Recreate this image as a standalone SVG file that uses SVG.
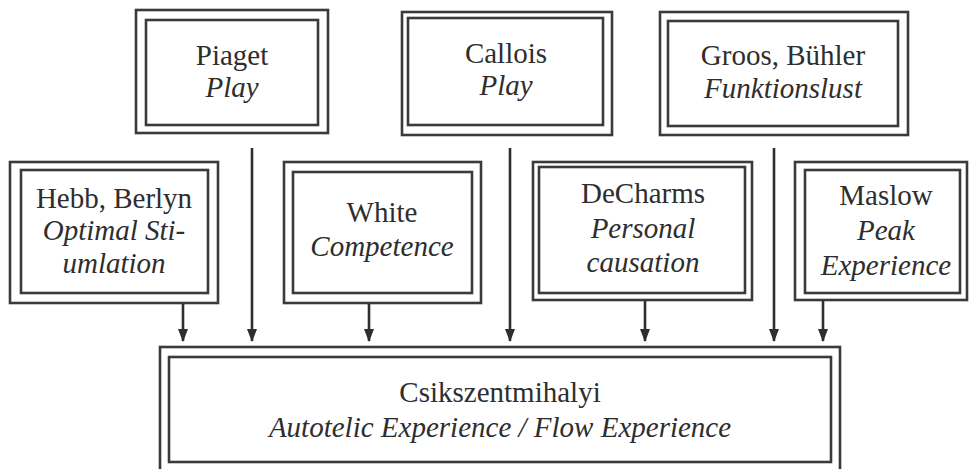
<svg xmlns="http://www.w3.org/2000/svg" width="970" height="469" viewBox="0 0 970 469">
  <style>
    .frame { fill: none; stroke: #3a3a3a; stroke-width: 2.6; }
    .label { font-family: 'Liberation Serif', 'Times New Roman', serif; font-size: 29px; fill: #2e2e2e; text-anchor: middle; }
    .it { font-style: italic; }
    .link { stroke: #2e2e2e; stroke-width: 2.6; fill: none; marker-end: url(#head); }
  </style>
  <defs>
    <marker id="head" viewBox="0 0 13 10" refX="12" refY="5" markerWidth="13" markerHeight="10" markerUnits="userSpaceOnUse" orient="auto">
      <path d="M0,0 L13,5 L0,10 Z" fill="#2e2e2e"/>
    </marker>
  </defs>
  <rect width="970" height="469" fill="#ffffff"/>

  <!-- top row -->
  <g id="piaget">
    <rect class="frame" x="136" y="10" width="192" height="123"/>
    <rect class="frame" x="146" y="20" width="172" height="105"/>
    <text class="label" x="232" y="65">Piaget</text>
    <text class="label it" x="232" y="97">Play</text>
  </g>
  <g id="callois">
    <rect class="frame" x="402" y="12" width="210" height="123"/>
    <rect class="frame" x="408" y="18" width="195" height="107"/>
    <text class="label" x="506" y="63">Callois</text>
    <text class="label it" x="506" y="95">Play</text>
  </g>
  <g id="groos">
    <rect class="frame" x="660" y="12" width="248" height="123"/>
    <rect class="frame" x="668" y="21" width="230" height="105"/>
    <text class="label" x="783" y="65">Groos, Bühler</text>
    <text class="label it" x="783" y="98">Funktionslust</text>
  </g>

  <!-- middle row -->
  <g id="hebb">
    <rect class="frame" x="10" y="162" width="208" height="141"/>
    <rect class="frame" x="21" y="170" width="187" height="123"/>
    <text class="label" x="114" y="208">Hebb, Berlyn</text>
    <text class="label it" x="114" y="240">Optimal Sti-</text>
    <text class="label it" x="114" y="273">umlation</text>
  </g>
  <g id="white">
    <rect class="frame" x="284" y="162" width="197" height="141"/>
    <rect class="frame" x="293" y="172" width="179" height="121"/>
    <text class="label" x="382" y="222">White</text>
    <text class="label it" x="382" y="256">Competence</text>
  </g>
  <g id="decharms">
    <rect class="frame" x="533" y="162" width="219" height="138"/>
    <rect class="frame" x="539" y="167" width="206" height="126"/>
    <text class="label" x="643" y="203">DeCharms</text>
    <text class="label it" x="643" y="238">Personal</text>
    <text class="label it" x="643" y="272">causation</text>
  </g>
  <g id="maslow">
    <rect class="frame" x="795" y="162" width="172" height="138"/>
    <rect class="frame" x="805" y="170" width="155" height="123"/>
    <text class="label" x="886" y="205">Maslow</text>
    <text class="label it" x="886" y="240">Peak</text>
    <text class="label it" x="886" y="275">Experience</text>
  </g>

  <!-- result -->
  <g id="csikszentmihalyi">
    <rect class="frame" x="160" y="347" width="680" height="124"/>
    <rect class="frame" x="169" y="357" width="662" height="105"/>
    <text class="label" x="500" y="402">Csikszentmihalyi</text>
    <text class="label it" x="500" y="437">Autotelic Experience / Flow Experience</text>
  </g>

  <!-- connectors -->
  <g id="connectors">
    <line class="link" x1="183" y1="304" x2="183" y2="341"/>
    <line class="link" x1="252" y1="148" x2="252" y2="341"/>
    <line class="link" x1="369" y1="304" x2="369" y2="341"/>
    <line class="link" x1="510" y1="148" x2="510" y2="341"/>
    <line class="link" x1="645" y1="301" x2="645" y2="341"/>
    <line class="link" x1="774" y1="148" x2="774" y2="341"/>
    <line class="link" x1="823" y1="301" x2="823" y2="341"/>
  </g>
</svg>
